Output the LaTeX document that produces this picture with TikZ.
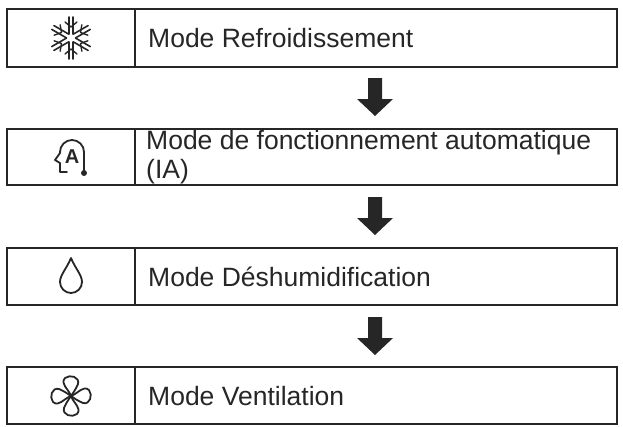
\documentclass[tikz,border=0pt]{standalone}
\usepackage{fontspec}
\setmainfont{Liberation Sans}
\begin{document}
\begin{tikzpicture}[x=1pt,y=-1pt,
  box/.style={draw=black!85,line width=1.6pt},
  lbl/.style={anchor=west,font=\fontsize{26.5}{29}\selectfont,text=black!85,inner sep=0},
  ic/.style={line width=1.8pt,black!85,line join=round,line cap=round},
  darr/.style={fill=black!85}]
\useasboundingbox (0,0) rectangle (623,426);
% boxes
\foreach \n/\a/\b in {b1/9/67,b2/129/185,b3/248/305,b4/367/424}{
  \draw[box] (7,\a) rectangle (617,\b);
  \draw[box] (135,\a) -- (135,\b);
  \coordinate (\n) at (71,{(\a+\b)/2});
}
\node[lbl] (t1) at (148,38) {Mode Refroidissement};
\node[lbl,align=left,anchor=west] (t2) at (146,157) {Mode de fonctionnement automatique\\(IA)};
\node[lbl] (t3) at (148,277) {Mode Déshumidification};
\node[lbl] (t4) at (148,396) {Mode Ventilation};
% arrows
\foreach \y in {78,197,317}{
  \fill[darr] (368,\y) -- (382,\y) -- (382,\y+21) -- (393,\y+21) -- (375,\y+38) -- (357,\y+21) -- (368,\y+21) -- cycle;
}
% snowflake
\begin{scope}[shift={(71,38)}]
  \foreach \r in {0,60,120}{
    \begin{scope}[rotate=\r]
      \draw[ic,line width=1.6pt] (-2.2,-4) -- (-2.2,-21) (2.2,-4) -- (2.2,-21) (-2.2,4) -- (-2.2,21) (2.2,4) -- (2.2,21);
      \draw[ic,line width=1.4pt] (-6,-16) -- (0,-11) -- (6,-16) (-6,16) -- (0,11) -- (6,16);
    \end{scope}
  }
\end{scope}
% A head
\begin{scope}[shift={(72,157)}]
  \draw[ic] (12,15) -- (12,-5) arc (0:-180:12) -- (-12,-4) -- (-17,3) -- (-12,6) -- (-12,15) -- (-5,15);
  \fill[black!85] (12,16) circle (3);
  \node[font=\bfseries\fontsize{20}{20}\selectfont,text=black!85,inner sep=0] (ia) at (0,0) {A};
\end{scope}
% drop
\begin{scope}[shift={(71,277)}]
  \draw[ic] (0,-19) .. controls (-4,-9) and (-11,-2) .. (-11,5) arc (180:0:11) .. controls (11,-2) and (4,-9) .. (0,-19);
\end{scope}
% fan
\begin{scope}[shift={(71,396)}]
  \foreach \r in {0,90,180,270}{
    \begin{scope}[rotate=\r]
      \draw[ic] (0,0) .. controls (-3,-8) and (-11,-12) .. (-6,-18) .. controls (-1,-22) and (9,-19) .. (7,-12) .. controls (5,-7) and (2,-3) .. (0,0);
    \end{scope}
  }
\end{scope}
\end{tikzpicture}
\end{document}
